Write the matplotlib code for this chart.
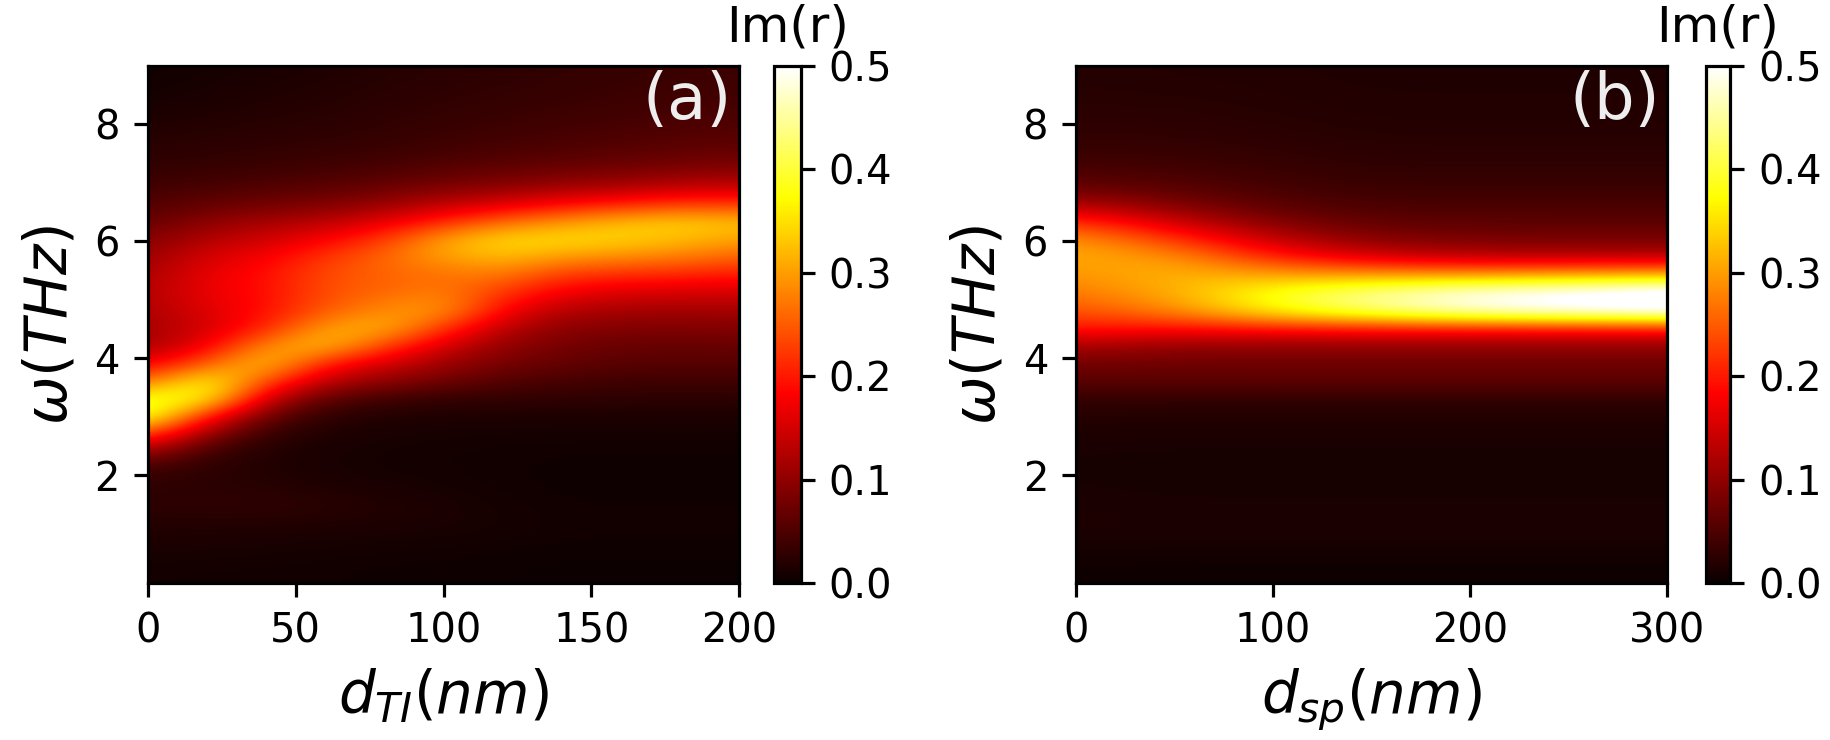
import numpy as np
import matplotlib
matplotlib.use("Agg")
import matplotlib.pyplot as plt

# omega rows (THz), shared by both panels, ascending
omega = [0.3, 0.6, 0.9, 1.2, 1.5, 1.8, 2.1, 2.4, 2.7, 3.0,
         3.3, 3.6, 3.9, 4.2, 4.5, 4.8, 5.1, 5.4, 5.7, 6.0,
         6.3, 6.6, 6.9, 7.2, 7.5, 7.8, 8.1, 8.4, 8.7, 9.0]

# panel (a): Im(r) profiles along omega at several d_TI (nm)
d_ti = [0, 20, 40, 60, 80, 100, 120, 140, 160, 180, 200]
im_a = [
    [0.008, 0.011, 0.015, 0.020, 0.026, 0.028, 0.040, 0.110, 0.240, 0.400,
     0.390, 0.260, 0.170, 0.115, 0.115, 0.120, 0.125, 0.120, 0.110, 0.092,
     0.070, 0.054, 0.042, 0.032, 0.025, 0.020, 0.015, 0.010, 0.008, 0.006],
    [0.007, 0.010, 0.014, 0.020, 0.028, 0.025, 0.025, 0.040, 0.100, 0.200,
     0.380, 0.385, 0.250, 0.175, 0.150, 0.160, 0.170, 0.170, 0.155, 0.130,
     0.100, 0.070, 0.048, 0.035, 0.028, 0.023, 0.018, 0.014, 0.011, 0.009],
    [0.007, 0.009, 0.013, 0.020, 0.028, 0.022, 0.018, 0.018, 0.030, 0.070,
     0.140, 0.240, 0.340, 0.290, 0.210, 0.190, 0.190, 0.190, 0.180, 0.150,
     0.120, 0.080, 0.055, 0.040, 0.031, 0.025, 0.021, 0.018, 0.015, 0.012],
    [0.006, 0.008, 0.011, 0.018, 0.024, 0.016, 0.012, 0.012, 0.016, 0.025,
     0.060, 0.130, 0.200, 0.330, 0.305, 0.250, 0.240, 0.240, 0.225, 0.185,
     0.135, 0.090, 0.062, 0.044, 0.034, 0.028, 0.023, 0.020, 0.018, 0.016],
    [0.005, 0.007, 0.010, 0.016, 0.018, 0.012, 0.009, 0.009, 0.012, 0.018,
     0.040, 0.100, 0.150, 0.230, 0.320, 0.290, 0.260, 0.255, 0.260, 0.230,
     0.170, 0.110, 0.072, 0.050, 0.038, 0.032, 0.028, 0.025, 0.022, 0.020],
    [0.005, 0.006, 0.009, 0.013, 0.013, 0.010, 0.008, 0.008, 0.010, 0.015,
     0.030, 0.075, 0.110, 0.150, 0.220, 0.300, 0.280, 0.265, 0.300, 0.310,
     0.220, 0.140, 0.090, 0.060, 0.045, 0.037, 0.032, 0.029, 0.026, 0.024],
    [0.004, 0.005, 0.008, 0.010, 0.009, 0.007, 0.006, 0.007, 0.009, 0.015,
     0.030, 0.055, 0.080, 0.100, 0.130, 0.180, 0.220, 0.270, 0.320, 0.350,
     0.270, 0.165, 0.100, 0.068, 0.050, 0.042, 0.036, 0.032, 0.029, 0.027],
    [0.003, 0.004, 0.006, 0.007, 0.006, 0.005, 0.005, 0.006, 0.009, 0.014,
     0.028, 0.045, 0.068, 0.080, 0.095, 0.125, 0.170, 0.220, 0.290, 0.350,
     0.300, 0.195, 0.115, 0.075, 0.055, 0.046, 0.040, 0.035, 0.032, 0.030],
    [0.003, 0.004, 0.006, 0.007, 0.006, 0.005, 0.005, 0.006, 0.009, 0.014,
     0.026, 0.040, 0.058, 0.070, 0.088, 0.115, 0.155, 0.210, 0.280, 0.340,
     0.330, 0.215, 0.125, 0.082, 0.060, 0.050, 0.043, 0.038, 0.035, 0.033],
    [0.003, 0.004, 0.006, 0.007, 0.006, 0.005, 0.005, 0.006, 0.009, 0.014,
     0.025, 0.040, 0.058, 0.068, 0.088, 0.112, 0.150, 0.205, 0.270, 0.320,
     0.340, 0.235, 0.140, 0.090, 0.066, 0.055, 0.047, 0.042, 0.038, 0.036],
    [0.003, 0.004, 0.006, 0.007, 0.006, 0.005, 0.005, 0.006, 0.009, 0.014,
     0.026, 0.040, 0.058, 0.070, 0.090, 0.115, 0.150, 0.195, 0.250, 0.300,
     0.330, 0.230, 0.145, 0.095, 0.070, 0.058, 0.050, 0.044, 0.040, 0.038],
]

# panel (b): Im(r) profiles along omega at several d_sp (nm)
d_sp = [0, 50, 100, 150, 200, 250, 300]
im_b = [
    [0.005, 0.008, 0.012, 0.015, 0.013, 0.012, 0.011, 0.012, 0.015, 0.020,
     0.032, 0.060, 0.078, 0.120, 0.200, 0.240, 0.270, 0.290, 0.310, 0.300,
     0.230, 0.130, 0.070, 0.048, 0.036, 0.030, 0.026, 0.023, 0.021, 0.020],
    [0.004, 0.007, 0.012, 0.014, 0.012, 0.011, 0.010, 0.011, 0.014, 0.018,
     0.030, 0.060, 0.075, 0.100, 0.190, 0.280, 0.310, 0.320, 0.300, 0.230,
     0.150, 0.090, 0.060, 0.045, 0.035, 0.029, 0.025, 0.022, 0.020, 0.019],
    [0.004, 0.007, 0.012, 0.014, 0.012, 0.011, 0.010, 0.011, 0.014, 0.018,
     0.030, 0.062, 0.075, 0.100, 0.200, 0.370, 0.390, 0.310, 0.210, 0.140,
     0.090, 0.060, 0.045, 0.036, 0.030, 0.025, 0.022, 0.020, 0.019, 0.018],
    [0.004, 0.007, 0.012, 0.014, 0.012, 0.011, 0.010, 0.011, 0.014, 0.018,
     0.030, 0.062, 0.075, 0.100, 0.200, 0.430, 0.450, 0.310, 0.160, 0.095,
     0.065, 0.048, 0.037, 0.030, 0.025, 0.021, 0.019, 0.018, 0.017, 0.016],
    [0.004, 0.007, 0.012, 0.014, 0.012, 0.011, 0.010, 0.011, 0.014, 0.018,
     0.030, 0.062, 0.075, 0.100, 0.200, 0.480, 0.500, 0.310, 0.140, 0.085,
     0.063, 0.048, 0.037, 0.030, 0.025, 0.021, 0.019, 0.018, 0.017, 0.016],
    [0.004, 0.007, 0.012, 0.014, 0.012, 0.011, 0.010, 0.011, 0.014, 0.018,
     0.030, 0.062, 0.075, 0.100, 0.200, 0.500, 0.520, 0.320, 0.140, 0.085,
     0.062, 0.048, 0.037, 0.030, 0.025, 0.021, 0.019, 0.018, 0.017, 0.016],
    [0.004, 0.007, 0.012, 0.014, 0.012, 0.011, 0.010, 0.011, 0.014, 0.018,
     0.030, 0.062, 0.075, 0.100, 0.200, 0.520, 0.550, 0.330, 0.140, 0.085,
     0.062, 0.048, 0.037, 0.030, 0.025, 0.021, 0.019, 0.018, 0.017, 0.016],
]

fig = plt.figure(figsize=(1830 / 288, 740 / 288), dpi=288)

panels = [
    (d_ti, im_a, r"$d_{TI}(nm)$", "(a)", [0, 50, 100, 150, 200],
     [0.0807, 0.2118, 0.3233, 0.6991], [0.4230, 0.2118, 0.0146, 0.6991]),
    (d_sp, im_b, r"$d_{sp}(nm)$", "(b)", [0, 100, 200, 300],
     [0.5880, 0.2118, 0.3230, 0.6991], [0.9321, 0.2118, 0.0132, 0.6991]),
]

dw = omega[1] - omega[0]
for d, prof, xlab, tag, xt, pos, cpos in panels:
    ax = fig.add_axes(pos)
    z = np.array(prof).T
    dd = d[1] - d[0]
    img = ax.imshow(z, origin="lower", aspect="auto", cmap="hot",
                    vmin=0, vmax=0.5, interpolation="bicubic",
                    extent=[d[0] - dd / 2, d[-1] + dd / 2,
                            omega[0] - dw / 2, omega[-1] + dw / 2])
    ax.set_xlim(d[0], d[-1])
    ax.set_ylim(0.15, 9)
    ax.set_xticks(xt)
    ax.set_yticks([2, 4, 6, 8])
    ax.set_xlabel(xlab, fontsize=14.5)
    ax.set_ylabel(r"$\omega(THz)$", fontsize=14.5)
    ax.text(0.988, 0.992, tag, transform=ax.transAxes, ha="right", va="top",
            color="#eeeeee", fontsize=16)
    cax = fig.add_axes(cpos)
    cb = fig.colorbar(img, cax=cax, ticks=[0, 0.1, 0.2, 0.3, 0.4, 0.5])
    cb.ax.set_yticklabels(["0.0", "0.1", "0.2", "0.3", "0.4", "0.5"])
    cb.ax.set_title("Im(r)", fontsize=12.5)

fig.savefig("out.png", dpi=288)
